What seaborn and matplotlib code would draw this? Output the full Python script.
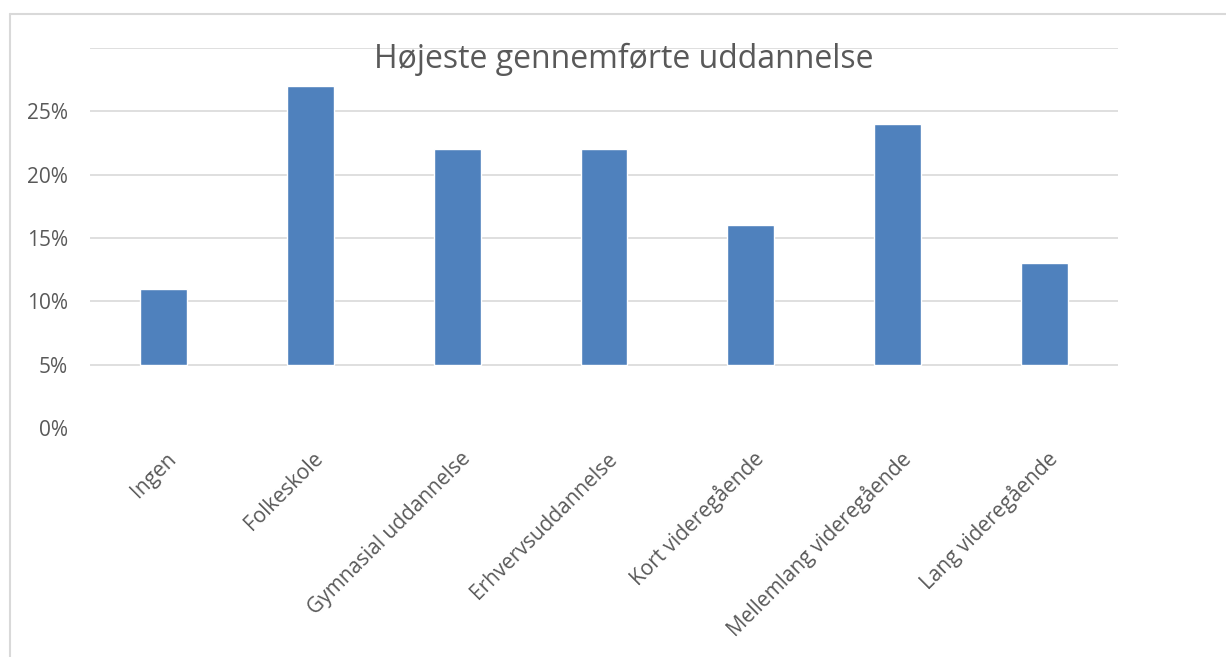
import matplotlib
matplotlib.use("Agg")
import matplotlib.pyplot as plt
import matplotlib.transforms as mtransforms
from matplotlib.lines import Line2D
import pandas as pd
import seaborn as sns

sns.set_style("white")
plt.rcParams["font.family"] = ["Open Sans", "DejaVu Sans"]

CATEGORIES = ["Ingen", "Folkeskole", "Gymnasial uddannelse", "Erhvervsuddannelse",
              "Kort videregående", "Mellemlang videregående", "Lang videregående"]
SHARES = [0.11, 0.27, 0.22, 0.22, 0.16, 0.24, 0.13]
BASE = 0.05  # horizontal axis crosses at 5%
Y_TICKS = [0.0, 0.05, 0.10, 0.15, 0.20, 0.25, 0.30]
Y_LABELS = ["0%", "5%", "10%", "15%", "20%", "25%", ""]
TITLE = "Højeste gennemførte uddannelse"

TEXT = "#595959"
GRID = "#d9d9d9"
BAR = "#4f81bd"

df = pd.DataFrame({"kategori": CATEGORIES, "andel": SHARES})
df["hoejde"] = df["andel"] - BASE

fig = plt.figure(figsize=(12.26, 6.57), dpi=100)
ax = fig.add_axes([90 / 1226, 1 - 428 / 657, 1028 / 1226, 380 / 657])

sns.barplot(data=df, x="kategori", y="hoejde", bottom=BASE, color=BAR,
            width=0.32, saturation=1, ax=ax, zorder=3)

ax.set_ylim(0, 0.30)
ax.set_xlim(-0.5, len(CATEGORIES) - 0.5)
ax.set_yticks(Y_TICKS)
ax.set_yticklabels(Y_LABELS)
for y in Y_TICKS[1:]:
    ax.axhline(y, color=GRID, lw=1.2, zorder=1)

ax.set_xlabel("")
ax.set_ylabel("")
for s in ax.spines.values():
    s.set_visible(False)
ax.tick_params(axis="y", length=0, pad=16, labelsize=15, labelcolor=TEXT)
ax.tick_params(axis="x", length=0, pad=20, labelsize=15, labelcolor=TEXT)

offset = mtransforms.ScaledTranslation(10 / 100, 0, fig.dpi_scale_trans)
for lbl in ax.get_xticklabels():
    lbl.set_rotation(45)
    lbl.set_ha("right")
    lbl.set_va("center")
    lbl.set_rotation_mode("anchor")
    lbl.set_transform(lbl.get_transform() + offset)

fig.text(0.509, 1 - 68 / 657, TITLE, ha="center", va="baseline",
         fontsize=23, color=TEXT)

# chart frame
fx, fy = 9.5 / 1226, 1 - 13.5 / 657
fig.add_artist(Line2D([fx, 1.0], [fy, fy], color=GRID, lw=1.5))
fig.add_artist(Line2D([fx, fx], [0.0, fy], color=GRID, lw=1.5))

fig.savefig("out.png", dpi=100, facecolor="white")
